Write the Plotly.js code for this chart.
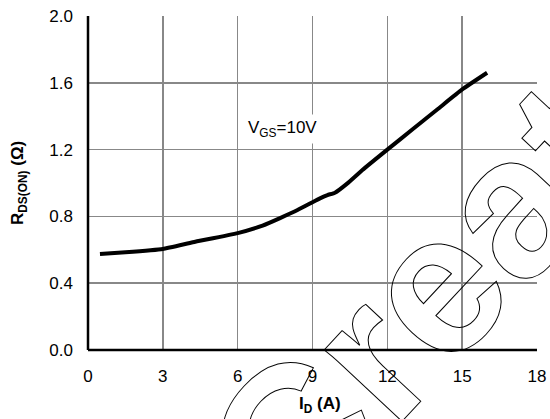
<!DOCTYPE html>
<html>
<head>
<meta charset="utf-8">
<script src="https://cdn.plot.ly/plotly-3.0.1.min.js"></script>
<style>
html,body{margin:0;padding:0;background:#fff;}
#chart{width:550px;height:419px;}
.annotation[data-index="2"] text{fill:none !important;stroke:#000;stroke-width:1px;}
</style>
</head>
<body>
<div id="chart"></div>
<script>
// Drain current I_D (A)
const currentA = [0.48, 1.5, 3.0, 4.2, 6.0, 7.0, 7.7, 8.4, 9.0, 9.3, 9.6, 9.9, 10.4, 11.0, 12.0, 13.0, 14.0, 15.0, 16.0];
// On-resistance R_DS(ON) (Ohm)
const rdsOn = [0.575, 0.585, 0.605, 0.645, 0.70, 0.745, 0.79, 0.838, 0.885, 0.908, 0.928, 0.942, 0.998, 1.078, 1.20, 1.32, 1.44, 1.56, 1.66];
const xTicks = [0, 3, 6, 9, 12, 15, 18];
const yTicks = [0.0, 0.4, 0.8, 1.2, 1.6, 2.0];
const yTickText = ['0.0', '0.4', '0.8', '1.2', '1.6', '2.0'];

const font = 'Liberation Sans, Arial, sans-serif';

const trace = {
  x: currentA, y: rdsOn, type: 'scatter', mode: 'lines',
  line: {color: '#000', width: 4, shape: 'spline', smoothing: 0.4},
  hoverinfo: 'skip', showlegend: false
};

const plotW = 550 - 88 - 13, plotH = 419 - 16 - 69;
const px = v => (v - 88) / plotW;
const py = v => (350 - v) / plotH;

const layout = {
  width: 550, height: 419,
  margin: {l: 88, r: 13, t: 16, b: 69},
  paper_bgcolor: '#fff', plot_bgcolor: '#fff',
  font: {family: font, size: 17, color: '#000'},
  xaxis: {
    range: [0, 18], tickvals: xTicks, ticktext: xTicks.map(String),
    showgrid: true, gridcolor: '#888', gridwidth: 1.5,
    showline: false, zeroline: false, ticks: '', ticklabelstandoff: 14,
    tickfont: {family: font, size: 17, color: '#000'},
    fixedrange: true
  },
  yaxis: {
    range: [0, 2.0], tickvals: yTicks, ticktext: yTickText,
    showgrid: true, gridcolor: '#888', gridwidth: 1.5,
    showline: false, zeroline: false, ticks: '', ticklabelstandoff: 14,
    tickfont: {family: font, size: 17, color: '#000'},
    fixedrange: true
  },
  shapes: [
    {type: 'line', xref: 'paper', yref: 'paper', x0: 0, x1: 0, y0: 0, y1: 1, line: {color: '#000', width: 2.5}},
    {type: 'line', xref: 'paper', yref: 'paper', x0: 0, x1: 1, y0: 0, y1: 0, line: {color: '#000', width: 2.5}}
  ],
  annotations: [
    {x: 7.8, y: 1.323, xref: 'x', yref: 'y', text: 'V<sub>GS</sub>=10V', showarrow: false,
     xanchor: 'center', yanchor: 'middle',
     font: {family: font, size: 17, color: '#000'}, bgcolor: '#fff', borderpad: 3},
    {x: px(320), y: py(405), xref: 'paper', yref: 'paper', text: '<b>I<sub>D</sub> (A)</b>', showarrow: false,
     xanchor: 'center', yanchor: 'middle',
     font: {family: font, size: 17, color: '#000'}},
    {x: px(455), y: py(262), xref: 'paper', yref: 'paper', text: '<b>Create</b>', showarrow: false, textangle: -47,
     xanchor: 'center', yanchor: 'middle',
     font: {family: font, size: 200, color: '#000'}},
    {x: px(19), y: py(183), xref: 'paper', yref: 'paper', text: '<b>R<sub>DS(ON)</sub> (Ω)</b>', showarrow: false, textangle: -90,
     xanchor: 'center', yanchor: 'middle',
     font: {family: font, size: 17, color: '#000'}}
  ]
};

Plotly.newPlot('chart', [trace], layout, {displayModeBar: false, staticPlot: true});
</script>
</body>
</html>
